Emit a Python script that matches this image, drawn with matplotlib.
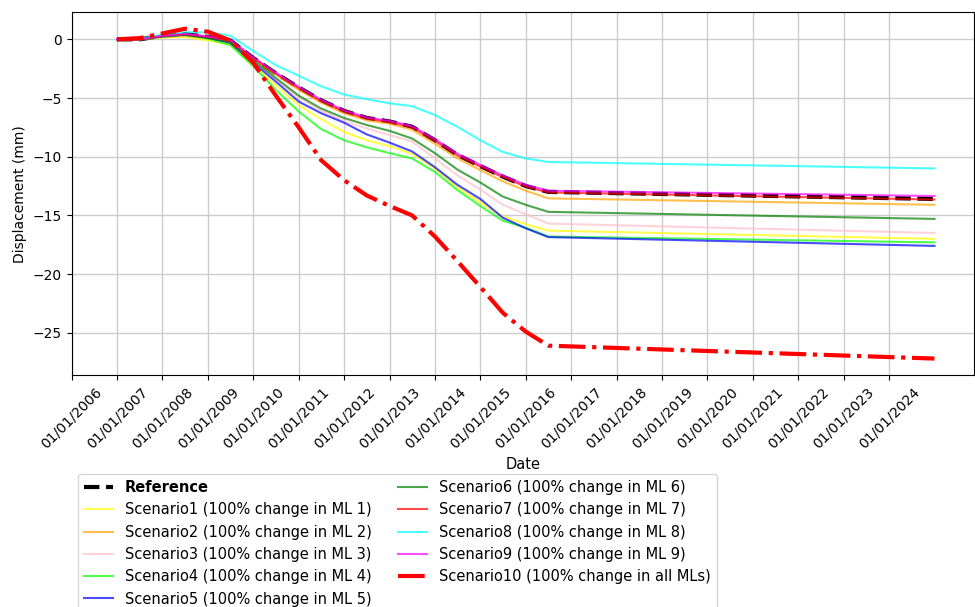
import matplotlib
matplotlib.use("Agg")
import matplotlib.pyplot as plt
import matplotlib.dates as mdates
import pandas as pd

# Sampling dates (decimal years) of the displacement series
years = [2007.0, 2007.5, 2008.0, 2008.5, 2009.0, 2009.5, 2010.0, 2010.5,
         2011.0, 2011.5, 2012.0, 2012.5, 2013.0, 2013.5, 2014.0, 2014.5,
         2015.0, 2015.5, 2016.0, 2016.5, 2025.0]

reference = [0, 0.0, 0.3, 0.45, 0.2, -0.1, -1.6, -2.9, -4.1, -5.2, -6.1, -6.7,
             -7.0, -7.45, -8.6, -9.85, -10.8, -11.7, -12.5, -13.0, -13.6]
scenario1 = [0, 0.0, 0.15, 0.2, -0.1, -0.45, -2.2, -3.9, -5.6, -6.8, -7.9, -8.6,
             -9.1, -9.75, -11.0, -12.6, -13.9, -15.1, -15.75, -16.3, -17.0]
scenario2 = [0, 0.0, 0.2, 0.3, 0.1, -0.2, -1.7, -3.0, -4.3, -5.4, -6.3, -6.9,
             -7.2, -7.7, -8.9, -10.15, -11.15, -12.1, -12.9, -13.55, -14.1]
scenario3 = [0, 0.0, 0.25, 0.4, 0.15, -0.25, -1.9, -3.4, -4.95, -6.1, -6.95, -7.6,
             -8.15, -8.7, -10.15, -11.6, -12.8, -14.1, -14.9, -15.7, -16.5]
scenario4 = [0, 0.0, 0.25, 0.4, 0.05, -0.5, -2.3, -4.3, -6.15, -7.65, -8.6, -9.2,
             -9.7, -10.15, -11.3, -12.85, -14.2, -15.45, -16.05, -16.8, -17.3]
scenario5 = [0, 0.0, 0.25, 0.4, 0.15, -0.3, -2.0, -3.6, -5.3, -6.3, -7.1, -8.1,
             -8.8, -9.55, -10.9, -12.4, -13.6, -15.2, -16.1, -16.85, -17.6]
scenario6 = [0, 0.0, 0.25, 0.4, 0.15, -0.25, -1.8, -3.3, -4.8, -5.9, -6.7, -7.3,
             -7.8, -8.45, -9.7, -11.1, -12.2, -13.4, -14.1, -14.7, -15.3]
scenario7 = [0, 0.0, 0.3, 0.45, 0.2, -0.1, -1.6, -2.9, -4.15, -5.25, -6.15, -6.75,
             -7.05, -7.5, -8.65, -9.9, -10.85, -11.75, -12.55, -13.05, -13.65]
scenario8 = [0, 0.05, 0.4, 0.6, 0.6, 0.3, -1.0, -2.2, -3.1, -4.0, -4.7, -5.1,
             -5.45, -5.7, -6.45, -7.45, -8.6, -9.6, -10.15, -10.45, -11.0]
scenario9 = [0, 0.0, 0.3, 0.45, 0.25, -0.05, -1.55, -2.85, -4.05, -5.15, -6.05, -6.65,
             -6.95, -7.4, -8.5, -9.75, -10.7, -11.6, -12.4, -12.9, -13.35]
scenario10 = [0, 0.1, 0.5, 0.9, 0.65, -0.1, -2.0, -4.8, -7.5, -10.3, -12.0, -13.3,
              -14.2, -15.0, -16.8, -18.9, -21.1, -23.3, -24.9, -26.1, -27.2]

scenario_series = [scenario1, scenario2, scenario3, scenario4, scenario5,
                   scenario6, scenario7, scenario8, scenario9]
scenario_colors = ["yellow", "orange", "pink", "lime", "blue",
                   "green", "red", "cyan", "magenta"]
scenario_labels = [f"Scenario{i} (100% change in ML {i})" for i in range(1, 10)]
all_label = "Scenario10 (100% change in all MLs)"

tick_years = list(range(2006, 2025))


def to_date(y):
    year = int(y)
    month = int(round((y - year) * 12)) + 1
    return pd.Timestamp(year=year, month=month, day=1)


dates = [to_date(y) for y in years]

fig = plt.figure(figsize=(9.75, 6.07), dpi=100)
ax = fig.add_axes([0.0735, 0.3822, 0.9255, 0.5975])

ax.plot(dates, reference, color="black", linestyle="--", linewidth=3,
        label="Reference")
for vals, col, lab in zip(scenario_series, scenario_colors, scenario_labels):
    ax.plot(dates, vals, color=col, linewidth=1.5, alpha=0.7, label=lab)
ax.plot(dates, scenario10, color="red", linestyle="-.", linewidth=3,
        label=all_label)

ax.set_xlim(pd.Timestamp("2006-01-01"), pd.Timestamp("2025-11-15"))
ax.set_ylim(-28.6, 2.3)
ax.set_xticks([pd.Timestamp(year=y, month=1, day=1) for y in tick_years])
ax.xaxis.set_major_formatter(mdates.DateFormatter("%d/%m/%Y"))
plt.setp(ax.get_xticklabels(), rotation=45, ha="center")
ax.tick_params(labelsize=10)
ax.grid(True, color="#cccccc", linewidth=1)
ax.set_axisbelow(True)
ax.set_xlabel("Date", fontsize=10.5)
ax.set_ylabel("Displacement (mm)", fontsize=10)

handles, labels = ax.get_legend_handles_labels()
leg = fig.legend(handles, labels, loc="upper left",
                 bbox_to_anchor=(71 / 975, 1 - 467 / 607), ncol=2,
                 fontsize=10.5, columnspacing=1.8)
leg.get_texts()[0].set_fontweight("bold")

fig.savefig("out.png", dpi=100)
